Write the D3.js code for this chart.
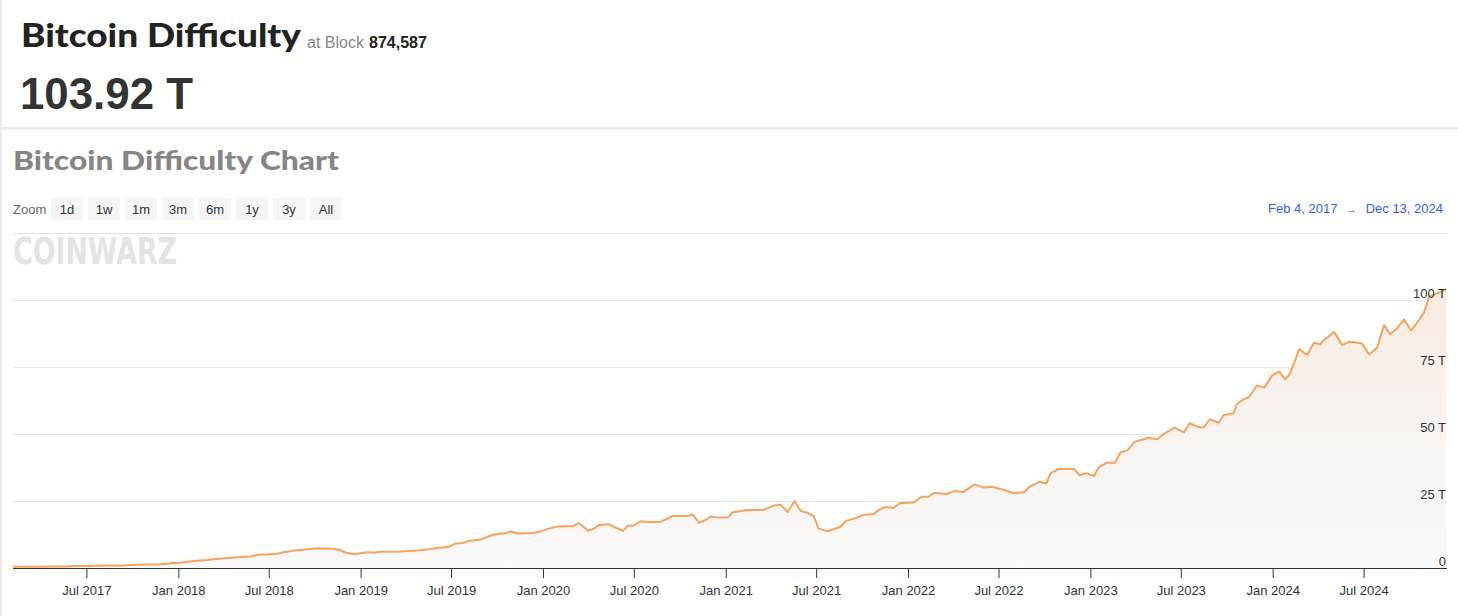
<!DOCTYPE html>
<html><head><meta charset="utf-8">
<script src="https://cdn.jsdelivr.net/npm/d3@7"></script>
<style>
html,body{margin:0;padding:0;background:#fff;}
svg{display:block;}
</style></head><body>
<svg id="c" width="1458" height="616"></svg>
<script>
// ---------- DATA ----------
const dates = [
"2017-02-04","2017-02-16","2017-03-01","2017-03-29","2017-04-26","2017-05-22","2017-06-07","2017-07-05","2017-07-20","2017-08-17",
"2017-09-14","2017-09-28","2017-10-22","2017-11-20","2017-12-09","2017-12-20",
"2018-01-05","2018-01-31","2018-02-28","2018-03-12","2018-04-21","2018-05-25","2018-06-08","2018-07-04","2018-07-18","2018-07-30",
"2018-08-19","2018-09-16","2018-10-06","2018-10-24","2018-11-07","2018-11-20","2018-12-03","2018-12-20",
"2019-01-07","2019-01-15","2019-01-28","2019-02-10","2019-03-22","2019-04-25","2019-05-21","2019-06-04","2019-06-26","2019-07-10",
"2019-07-26","2019-08-05","2019-08-29","2019-09-22","2019-10-08","2019-10-22","2019-10-28","2019-11-11","2019-12-13","2019-12-23",
"2020-01-11","2020-01-27","2020-02-12","2020-03-03","2020-03-13","2020-03-31","2020-04-12","2020-04-22","2020-05-12","2020-05-22",
"2020-06-09","2020-06-19","2020-07-01","2020-07-15","2020-08-04","2020-08-24","2020-09-17","2020-10-17","2020-10-27","2020-11-08",
"2020-11-22","2020-12-02","2020-12-16",
"2021-01-05","2021-01-15","2021-02-14","2021-03-16","2021-04-07","2021-04-21","2021-05-05","2021-05-19","2021-05-31","2021-06-14",
"2021-06-26","2021-07-06","2021-07-24","2021-08-19","2021-08-29","2021-09-22","2021-10-04","2021-10-24","2021-11-03","2021-11-17",
"2021-12-03","2021-12-17",
"2022-01-12","2022-01-28","2022-02-11","2022-02-23","2022-03-19","2022-04-04","2022-04-22","2022-05-14","2022-06-01","2022-06-17",
"2022-07-13","2022-07-31","2022-08-22","2022-09-01","2022-09-21","2022-10-05","2022-10-13","2022-10-29","2022-11-30","2022-12-10",
"2022-12-24",
"2023-01-08","2023-01-18","2023-02-03","2023-02-19","2023-03-03","2023-03-15","2023-03-31","2023-04-28","2023-05-14","2023-05-30",
"2023-06-19","2023-07-07","2023-07-19","2023-08-06","2023-08-16","2023-08-28","2023-09-15","2023-09-25","2023-10-15","2023-10-21",
"2023-11-04","2023-11-14","2023-11-20","2023-11-30","2023-12-16","2023-12-31",
"2024-01-14","2024-01-26","2024-02-05","2024-02-23","2024-03-10","2024-03-24","2024-04-05","2024-04-13","2024-05-03","2024-05-19",
"2024-06-02","2024-06-28","2024-07-12","2024-07-28","2024-08-11","2024-08-23","2024-09-06","2024-09-20","2024-10-04","2024-10-16",
"2024-10-30","2024-11-09","2024-11-25","2024-12-13"
];
const difficultyT = [
0.42,0.44,0.46,0.50,0.52,0.60,0.71,0.71,0.86,0.92,
0.92,1.10,1.35,1.35,1.59,1.87,
2.0,2.6,3.0,3.3,3.9,4.3,4.9,5.1,5.3,5.9,
6.4,7.0,7.4,7.3,7.2,6.7,5.7,5.1,
5.7,5.9,5.7,6.1,6.2,6.5,7.1,7.5,7.9,9.1,
9.3,10.1,10.6,12.3,12.9,13.1,13.7,12.9,13.1,13.4,
14.6,15.4,15.6,15.7,16.8,13.9,14.7,16.0,16.3,15.4,
13.9,15.8,15.9,17.4,17.1,17.3,19.4,19.4,20.0,16.9,
17.9,19.2,18.8,
18.8,20.8,21.6,21.6,23.3,23.6,20.9,25.0,21.3,20.6,
19.4,14.7,13.7,15.4,17.5,18.9,19.9,20.1,21.6,22.8,
22.4,24.3,
24.4,26.6,26.6,28.1,27.6,28.7,28.4,31.2,30.0,30.3,
29.1,27.9,28.4,30.3,32.1,31.6,35.3,36.9,36.9,34.6,
35.4,
34.3,37.6,39.3,39.3,43.3,43.7,47.1,48.6,48.0,50.2,
52.4,50.6,54.0,52.5,52.5,55.5,54.2,57.1,57.7,61.2,
63.0,63.7,65.2,68.0,67.4,71.9,
73.3,70.4,72.6,81.6,79.5,84.1,83.5,85.1,88.1,83.2,
84.5,83.8,79.7,82.2,90.7,87.2,89.4,92.8,88.6,91.5,
95.3,101.2,102.5,103.92
];
const yTickValues = [0, 25, 50, 75, 100];
const yTickLabels = ["0", "25 T", "50 T", "75 T", "100 T"];
const zoomButtons = ["1d", "1w", "1m", "3m", "6m", "1y", "3y", "All"];
const pageTitle = "Bitcoin Difficulty";
const blockLabel = "at Block";
const blockHeight = "874,587";
const currentDifficulty = "103.92 T";
const chartTitle = "Bitcoin Difficulty Chart";
const rangeStart = "Feb 4, 2017";
const rangeEnd = "Dec 13, 2024";

// ---------- DRAW ----------
(function () {
const svg = d3.select("#c");
const parse = d3.timeParse("%Y-%m-%d");
const data = dates.map((d, i) => ({ date: parse(d), v: difficultyT[i] }));

const pL = 13, pR = 1446, pT = 233, pB = 568;
const x = d3.scaleTime().domain([data[0].date, data[data.length - 1].date]).range([pL, pR]);
const y = d3.scaleLinear().domain([0, 100]).range([pB, 300]);

// page borders
svg.append("rect").attr("x", 0).attr("y", 0).attr("width", 2).attr("height", 616).attr("fill", "#e9e9e9");
svg.append("rect").attr("x", 0).attr("y", 127).attr("width", 1458).attr("height", 3).attr("fill", "#ececec");

// header
svg.append("text").attr("x", 21).attr("y", 47).text(pageTitle)
  .attr("font-family", "Lato, 'DejaVu Sans', sans-serif").attr("font-weight", 900).attr("font-size", 33)
  .attr("fill", "#222").attr("textLength", 280).attr("lengthAdjust", "spacingAndGlyphs");
svg.append("text").attr("x", 307).attr("y", 48).text(blockLabel)
  .attr("font-family", "'Liberation Sans', Arial, sans-serif").attr("font-size", 16).attr("fill", "#888");
svg.append("text").attr("x", 369).attr("y", 48).text(blockHeight)
  .attr("font-family", "'Liberation Sans', Arial, sans-serif").attr("font-weight", "bold").attr("font-size", 16).attr("fill", "#222");
svg.append("text").attr("x", 20).attr("y", 109).text(currentDifficulty)
  .attr("font-family", "'Liberation Sans', Arial, sans-serif").attr("font-weight", "bold").attr("font-size", 44)
  .attr("fill", "#333").attr("textLength", 173).attr("lengthAdjust", "spacingAndGlyphs");

// chart title
svg.append("text").attr("x", 13).attr("y", 170).text(chartTitle)
  .attr("font-family", "Lato, 'DejaVu Sans', sans-serif").attr("font-weight", 900).attr("font-size", 26)
  .attr("fill", "#858585").attr("textLength", 326).attr("lengthAdjust", "spacingAndGlyphs");

// zoom buttons
svg.append("text").attr("x", 13).attr("y", 214).text("Zoom")
  .attr("font-family", "'Liberation Sans', Arial, sans-serif").attr("font-size", 13).attr("fill", "#666");
const btn = svg.selectAll("g.btn").data(zoomButtons).enter().append("g")
  .attr("transform", (d, i) => `translate(${51 + i * 37},198)`);
btn.append("rect").attr("width", 32).attr("height", 22).attr("fill", "#f5f5f5");
btn.append("text").attr("x", 16).attr("y", 16).attr("text-anchor", "middle").text(d => d)
  .attr("font-family", "'Liberation Sans', Arial, sans-serif").attr("font-size", 13).attr("fill", "#333");

// date range
const rg = svg.append("g").attr("font-family", "'Liberation Sans', Arial, sans-serif").attr("font-size", 13);
rg.append("text").attr("x", 1268).attr("y", 213).text(rangeStart).attr("fill", "#3d5afe");
rg.append("text").attr("x", 1346).attr("y", 213).text("→").attr("fill", "#666").attr("font-size", 11);
rg.append("text").attr("x", 1443).attr("y", 213).attr("text-anchor", "end").text(rangeEnd).attr("fill", "#3d5afe");

// top separator of plot
svg.append("line").attr("x1", pL).attr("x2", 1447).attr("y1", pT + 0.5).attr("y2", pT + 0.5).attr("stroke", "#e3e3e3");

// watermark logo
svg.append("text").attr("x", 13).attr("y", 264).text("COINWARZ")
  .attr("font-family", "'DejaVu Sans', sans-serif").attr("font-weight", "bold").attr("font-size", 38)
  .attr("fill", "#e4e4e4").attr("textLength", 164).attr("lengthAdjust", "spacingAndGlyphs");

// gradient
const defs = svg.append("defs");
const grad = defs.append("linearGradient").attr("id", "ag").attr("gradientUnits", "userSpaceOnUse")
  .attr("x1", 0).attr("y1", y(100)).attr("x2", 0).attr("y2", y(0));
grad.append("stop").attr("offset", 0).attr("stop-color", "#f8ece2");
grad.append("stop").attr("offset", 0.45).attr("stop-color", "#f8f3ef");
grad.append("stop").attr("offset", 1).attr("stop-color", "#f9f9f9");

// grid
const grid = svg.append("g").attr("transform", `translate(1447,0)`)
  .call(d3.axisLeft(y).tickValues(yTickValues).tickSize(1447 - pL).tickFormat(""));
grid.select(".domain").remove();
grid.selectAll(".tick line").attr("stroke", "#e6e6e6");

// area + line
svg.append("path").datum(data)
  .attr("d", d3.area().x(d => x(d.date)).y0(y(0)).y1(d => y(d.v)))
  .attr("fill", "url(#ag)");
svg.append("path").datum(data)
  .attr("d", d3.line().x(d => x(d.date)).y(d => y(d.v)))
  .attr("fill", "none").attr("stroke", "#f7a35c").attr("stroke-width", 2).attr("stroke-linejoin", "round");

// y labels on top
const yAxis = svg.append("g").attr("transform", `translate(1447,0)`)
  .call(d3.axisLeft(y).tickValues(yTickValues).tickSize(0).tickFormat((d, i) => yTickLabels[i]));
yAxis.select(".domain").remove();
yAxis.selectAll(".tick text").attr("x", -1).attr("dy", null).attr("y", -3)
  .attr("text-anchor", "end").attr("fill", "#333")
  .attr("font-family", "'Liberation Sans', Arial, sans-serif").attr("font-size", 13);

// x axis
const xAxis = svg.append("g").attr("transform", `translate(0,${pB})`)
  .call(d3.axisBottom(x).ticks(d3.timeMonth.every(6)).tickFormat(d3.timeFormat("%b %Y"))
    .tickSize(10).tickSizeOuter(0).tickPadding(8));
xAxis.select(".domain").attr("stroke", "#333").attr("d", `M${pL},0.5H1447`);
xAxis.selectAll(".tick line").attr("stroke", "#333");
xAxis.selectAll(".tick text").attr("fill", "#333")
  .attr("font-family", "'Liberation Sans', Arial, sans-serif").attr("font-size", 13);
})();
</script>
</body></html>
